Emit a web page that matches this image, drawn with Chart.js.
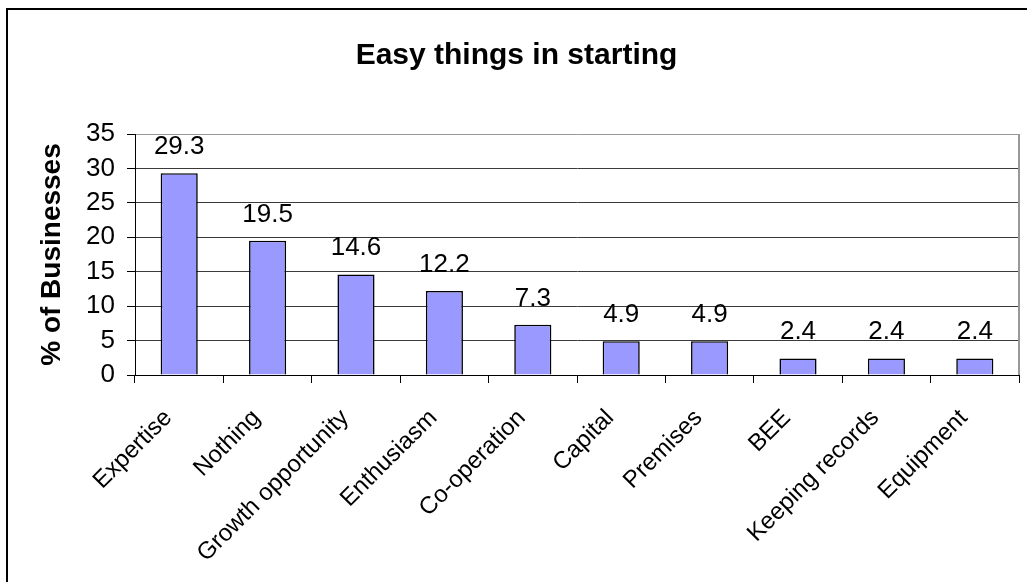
<!DOCTYPE html>
<html>
<head>
<meta charset="utf-8">
<script src="https://cdn.jsdelivr.net/npm/chart.js@4/dist/chart.umd.min.js"></script>
<style>
  body { margin: 0; background: #fff; }
</style>
</head>
<body>
<canvas id="myChart" width="1027" height="582"></canvas>
<script>
let categories = ["Expertise", "Nothing", "Growth opportunity", "Enthusiasm", "Co-operation",
    "Capital", "Premises", "BEE", "Keeping records", "Equipment"];
let businessShare = [29.3, 19.5, 14.6, 12.2, 7.3, 4.9, 4.9, 2.4, 2.4, 2.4];
let yTicks = [0, 5, 10, 15, 20, 25, 30, 35];

let fontFamily = "'Liberation Sans', Arial, sans-serif";
let ctx = document.getElementById("myChart").getContext('2d');

// outer frame (only left and top edges visible in the picture)
let framePlugin = {
    id: 'frame',
    beforeDraw(chart) {
        let c = chart.ctx;
        c.save();
        c.fillStyle = '#fff';
        c.fillRect(0, 0, chart.width, chart.height);
        c.strokeStyle = '#000';
        c.lineWidth = 2;
        c.beginPath();
        c.moveTo(7, chart.height);
        c.lineTo(7, 9);
        c.lineTo(chart.width, 9);
        c.stroke();
        c.restore();
    }
};

// grey right edge of the plot area
let plotBorderPlugin = {
    id: 'plotBorder',
    beforeDatasetsDraw(chart) {
        let a = chart.chartArea;
        let c = chart.ctx;
        c.save();
        c.strokeStyle = '#999';
        c.lineWidth = 2;
        c.beginPath();
        c.moveTo(a.right, a.top);
        c.lineTo(a.right, a.bottom);
        c.stroke();
        c.restore();
    }
};

// value labels above bars
let valueLabelPlugin = {
    id: 'valueLabels',
    afterDatasetsDraw(chart) {
        let c = chart.ctx;
        let meta = chart.getDatasetMeta(0);
        c.save();
        c.font = "26px " + fontFamily;
        c.fillStyle = '#000';
        c.textAlign = 'center';
        c.textBaseline = 'alphabetic';
        meta.data.forEach((bar, i) => {
            c.fillText(businessShare[i].toFixed(1), bar.x, bar.y - 19);
        });
        c.restore();
    }
};

let myChart = new Chart(ctx, {
    type: 'bar',
    data: {
        labels: categories,
        datasets: [{
            label: '% of Businesses',
            data: businessShare,
            backgroundColor: '#9999ff',
            borderColor: '#000',
            borderWidth: 1.6,
            barPercentage: 0.42,
            categoryPercentage: 1
        }]
    },
    options: {
        responsive: false,
        animation: false,
        layout: {
            padding: { left: 14, right: 8, top: 0, bottom: 0 }
        },
        plugins: {
            legend: { display: false },
            tooltip: { enabled: false },
            title: {
                display: true,
                text: 'Easy things in starting',
                color: '#000',
                font: { family: fontFamily, size: 30, weight: 'bold' },
                padding: { top: 38, bottom: 60 }
            }
        },
        scales: {
            x: {
                grid: {
                    offset: true,
                    drawOnChartArea: false,
                    drawTicks: true,
                    tickLength: 8,
                    tickColor: '#000'
                },
                border: { color: '#000', width: 1 },
                ticks: {
                    color: '#000',
                    font: { family: fontFamily, size: 24 },
                    minRotation: 45,
                    maxRotation: 45,
                    padding: 21,
                    labelOffset: -11
                },
                afterFit(scale) {
                    scale.height = 207;
                }
            },
            y: {
                min: 0,
                max: 35,
                afterBuildTicks(scale) {
                    scale.ticks = yTicks.map(v => ({ value: v }));
                },
                grid: {
                    color: c => (c.tick && c.tick.value === 35) ? '#999' : '#3a3a3a',
                    lineWidth: 1,
                    tickLength: 8,
                    tickColor: '#000'
                },
                border: { color: '#000', width: 1 },
                ticks: {
                    color: '#000',
                    font: { family: fontFamily, size: 26 },
                    padding: 12
                },
                title: {
                    display: true,
                    text: '% of Businesses',
                    color: '#000',
                    font: { family: fontFamily, size: 28, weight: 'bold' },
                    padding: { top: 21, bottom: 0 }
                },
                afterFit(scale) {
                    scale.width = 121;
                }
            }
        }
    },
    plugins: [framePlugin, plotBorderPlugin, valueLabelPlugin]
});
</script>
</body>
</html>
